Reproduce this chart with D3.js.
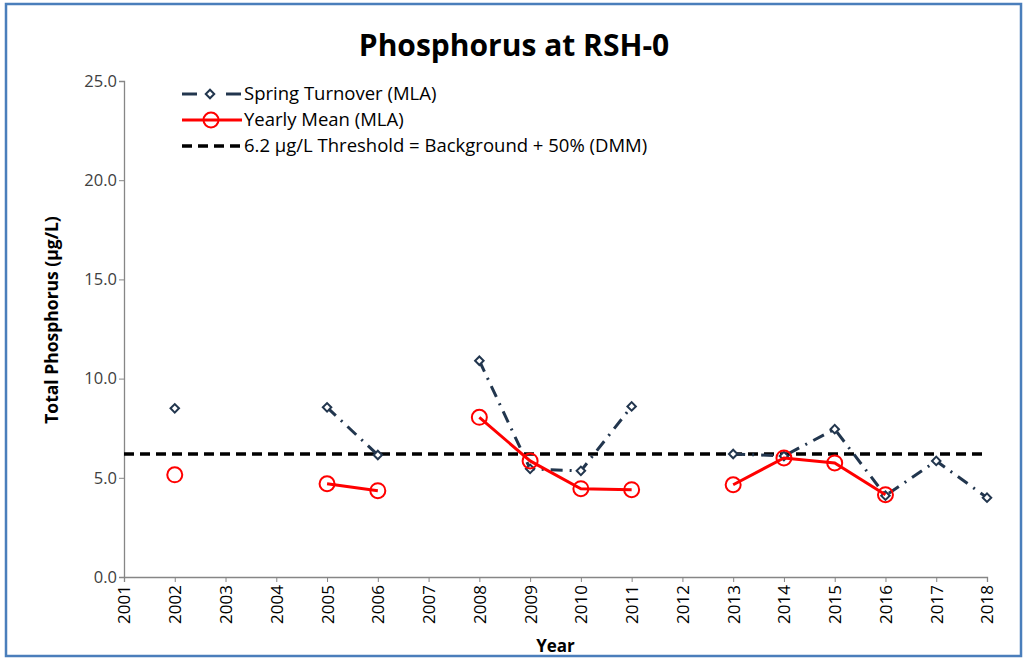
<!DOCTYPE html>
<html>
<head>
<meta charset="utf-8">
<script src="https://cdn.jsdelivr.net/npm/d3@7"></script>
<style>
    body { margin: 0; background: #ffffff; }
    text { font-family: "Open Sans", "DejaVu Sans", sans-serif; }
</style>
</head>
<body>
<div id="chartArea"></div>
<script>

// x categories
var years = [2001, 2002, 2003, 2004, 2005, 2006, 2007, 2008, 2009, 2010, 2011, 2012, 2013, 2014, 2015, 2016, 2017, 2018];

// Spring Turnover (MLA), null = no sample
var springValues = [null, 8.5, null, null, 8.55, 6.15, null, 10.9, 5.45, 5.35, 8.6, null, 6.2, 6.1, 7.45, 4.1, 5.85, 4.0];

// Yearly Mean (MLA)
var meanValues = [null, 5.15, null, null, 4.7, 4.35, null, 8.05, 5.85, 4.45, 4.4, null, 4.65, 6.0, 5.75, 4.15, null, null];

// DMM threshold
var thresholdValue = 6.2;

var yTicks = [0, 5, 10, 15, 20, 25];

var legendLabels = ["Spring Turnover (MLA)", "Yearly Mean (MLA)", "6.2 \u00b5g/L Threshold = Background + 50% (DMM)"];


ChartView = function(_parentElement){
    this.parentElement = _parentElement;
    this.initVis();
}

ChartView.prototype.initVis = function() {
    var vis = this;

    vis.margin = { top: 81, right: 41, bottom: 82, left: 124 };
    vis.fullWidth = 1028;
    vis.fullHeight = 659;
    vis.width = vis.fullWidth - vis.margin.left - vis.margin.right;
    vis.height = vis.fullHeight - vis.margin.top - vis.margin.bottom;

    vis.root = d3.select("#" + vis.parentElement).append("svg")
        .attr("width", vis.fullWidth)
        .attr("height", vis.fullHeight);

    // outer chart frame
    vis.root.append("rect")
        .attr("x", 6).attr("y", 4)
        .attr("width", 1015).attr("height", 652)
        .attr("fill", "#ffffff")
        .attr("stroke", "#4a7ebb")
        .attr("stroke-width", 2.5);

    vis.root.append("text")
        .attr("x", 514).attr("y", 56)
        .attr("text-anchor", "middle")
        .style("font-size", "30px")
        .style("font-weight", "bold")
        .style("fill", "#000")
        .text("Phosphorus at RSH-0");

    vis.svg = vis.root.append("g")
        .attr("transform", "translate(" + vis.margin.left + "," + vis.margin.top + ")");

    vis.x = d3.scalePoint()
        .domain(years)
        .range([0, vis.width]);

    vis.y = d3.scaleLinear()
        .domain([0, 25])
        .range([vis.height, 0]);

    vis.wrangleData();
}

ChartView.prototype.wrangleData = function() {
    var vis = this;

    vis.spring = years.map(function(yr, i) { return { year: yr, value: springValues[i] }; });
    vis.mean = years.map(function(yr, i) { return { year: yr, value: meanValues[i] }; });

    vis.updateVis();
}

ChartView.prototype.updateVis = function() {
    var vis = this;

    // y axis
    var yAxis = d3.axisLeft(vis.y)
        .tickValues(yTicks)
        .tickSize(5)
        .tickFormat(d3.format(".1f"));

    var yG = vis.svg.append("g").attr("class", "y-axis").call(yAxis);
    yG.select(".domain").attr("stroke", "#868686").attr("stroke-width", 1.3);
    yG.selectAll(".tick line").attr("stroke", "#868686");
    yG.selectAll(".tick text")
        .attr("x", -7)
        .style("font-size", "16.5px")
        .style("fill", "#404040");

    // x axis, labels turned vertical
    var xAxis = d3.axisBottom(vis.x).tickSize(5);

    var xG = vis.svg.append("g").attr("class", "x-axis")
        .attr("transform", "translate(0," + vis.height + ")")
        .call(xAxis);
    xG.select(".domain").attr("stroke", "#868686").attr("stroke-width", 1.3);
    xG.selectAll(".tick line").attr("stroke", "#868686");
    xG.selectAll(".tick text")
        .attr("transform", "rotate(-90)")
        .attr("x", -8).attr("y", 0)
        .attr("dy", "0.35em")
        .attr("text-anchor", "end")
        .style("font-size", "17px")
        .style("fill", "#000");

    // axis titles
    vis.root.append("text")
        .attr("transform", "translate(52,320) rotate(-90)")
        .attr("text-anchor", "middle")
        .attr("dy", "0.35em")
        .style("font-size", "17.5px")
        .style("font-weight", "bold")
        .text("Total Phosphorus (\u00b5g/L)");

    vis.root.append("text")
        .attr("x", vis.margin.left + vis.width / 2)
        .attr("y", 652)
        .attr("text-anchor", "middle")
        .style("font-size", "17px")
        .style("font-weight", "bold")
        .text("Year");

    var line = d3.line()
        .defined(function(d) { return d.value !== null; })
        .x(function(d) { return vis.x(d.year); })
        .y(function(d) { return vis.y(d.value); });

    // threshold
    vis.svg.append("line")
        .attr("x1", 0).attr("x2", vis.width)
        .attr("y1", vis.y(thresholdValue)).attr("y2", vis.y(thresholdValue))
        .attr("stroke", "#000")
        .attr("stroke-width", 3.5)
        .attr("stroke-dasharray", "10,6");

    // spring turnover: dash-dot with diamonds
    vis.svg.append("path")
        .datum(vis.spring)
        .attr("d", line)
        .attr("fill", "none")
        .attr("stroke", "#22364e")
        .attr("stroke-width", 3)
        .attr("stroke-dasharray", "12,7,2,7");

    // square turned 45 degrees
    var diamond = d3.symbol().type(d3.symbolSquare).size(36);

    vis.svg.append("g").selectAll("path")
        .data(vis.spring.filter(function(d) { return d.value !== null; }))
        .enter().append("path")
        .attr("d", diamond)
        .attr("transform", function(d) { return "translate(" + vis.x(d.year) + "," + vis.y(d.value) + ") rotate(45)"; })
        .attr("fill", "#ffffff")
        .attr("stroke", "#22364e")
        .attr("stroke-width", 2);

    // yearly mean: solid red with open circles
    vis.svg.append("path")
        .datum(vis.mean)
        .attr("d", line)
        .attr("fill", "none")
        .attr("stroke", "#ff0000")
        .attr("stroke-width", 3);

    vis.svg.append("g").selectAll("circle")
        .data(vis.mean.filter(function(d) { return d.value !== null; }))
        .enter().append("circle")
        .attr("cx", function(d) { return vis.x(d.year); })
        .attr("cy", function(d) { return vis.y(d.value); })
        .attr("r", 7.5)
        .attr("fill", "none")
        .attr("stroke", "#ff0000")
        .attr("stroke-width", 2);

    // legend
    var legend = vis.root.append("g").attr("transform", "translate(182,94)");
    var rowH = 26;

    legend.append("line")
        .attr("x1", 0).attr("x2", 15).attr("y1", 0).attr("y2", 0)
        .attr("stroke", "#22364e").attr("stroke-width", 3);
    legend.append("line")
        .attr("x1", 44).attr("x2", 59).attr("y1", 0).attr("y2", 0)
        .attr("stroke", "#22364e").attr("stroke-width", 3);
    legend.append("path")
        .attr("d", diamond)
        .attr("transform", "translate(28,0) rotate(45)")
        .attr("fill", "#ffffff").attr("stroke", "#22364e").attr("stroke-width", 2);

    legend.append("line")
        .attr("x1", 0).attr("x2", 60).attr("y1", rowH).attr("y2", rowH)
        .attr("stroke", "#ff0000").attr("stroke-width", 3);
    legend.append("circle")
        .attr("cx", 29).attr("cy", rowH).attr("r", 7.5)
        .attr("fill", "none").attr("stroke", "#ff0000").attr("stroke-width", 2);

    legend.append("line")
        .attr("x1", 0).attr("x2", 60).attr("y1", rowH * 2).attr("y2", rowH * 2)
        .attr("stroke", "#000").attr("stroke-width", 3.5)
        .attr("stroke-dasharray", "10,6");

    legend.selectAll(".lg-text")
        .data(legendLabels)
        .enter().append("text")
        .attr("class", "lg-text")
        .attr("x", 62)
        .attr("y", function(d, i) { return i * rowH; })
        .attr("dy", "0.35em")
        .style("font-size", "18.5px")
        .style("fill", "#000")
        .text(function(d) { return d; });
}

var chartView = new ChartView("chartArea");

</script>
</body>
</html>
